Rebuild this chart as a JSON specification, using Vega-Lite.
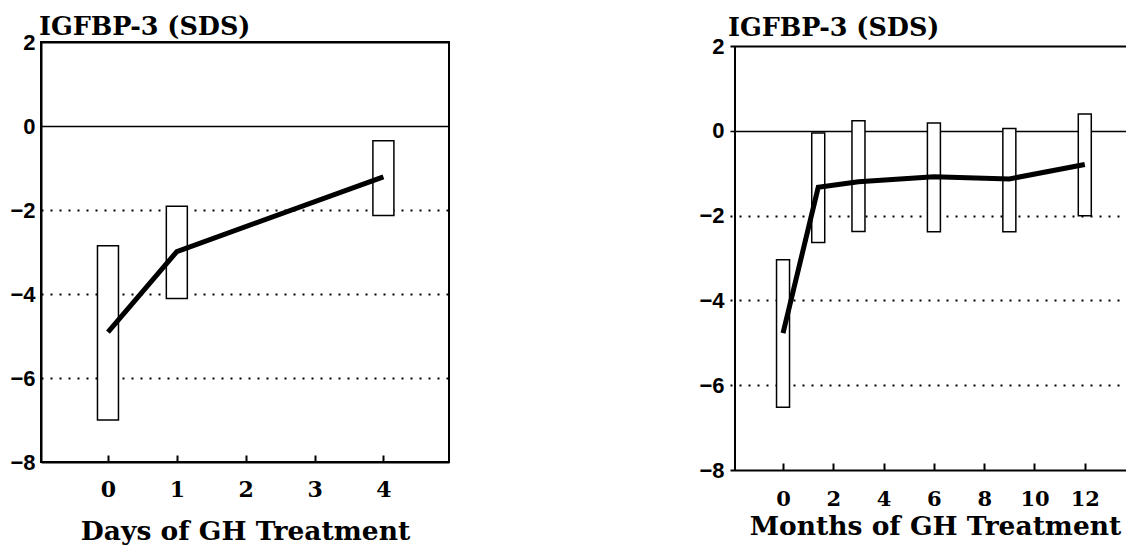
{
  "$schema": "https://vega.github.io/schema/vega-lite/v6.json",
  "background": "white",
  "autosize": {"type": "pad"},
  "padding": {"left": 8, "top": 13, "right": 0, "bottom": 0},
  "spacing": 248,
  "datasets": {
    "days": [
      {"day": 0, "low": -7.0, "high": -2.85, "mean": -4.91},
      {"day": 1, "low": -4.11, "high": -1.91, "mean": -2.99},
      {"day": 4, "low": -2.13, "high": -0.35, "mean": -1.21}
    ],
    "months": [
      {"month": 0, "low": -6.52, "high": -3.04, "mean": -4.77},
      {"month": 1.4, "low": -2.63, "high": -0.05, "mean": -1.33},
      {"month": 3, "low": -2.37, "high": 0.24, "mean": -1.2},
      {"month": 6, "low": -2.38, "high": 0.19, "mean": -1.08},
      {"month": 9, "low": -2.38, "high": 0.06, "mean": -1.13},
      {"month": 12, "low": -2.0, "high": 0.4, "mean": -0.79}
    ]
  },
  "config": {
    "view": {"stroke": "black", "strokeWidth": 2},
    "axis": {"domainColor": "black", "domainWidth": 2, "tickColor": "black", "labelColor": "black", "titleColor": "black", "labelFlush": false}
  },
  "hconcat": [
    {
      "width": 408,
      "height": 420,
      "title": {"text": "IGFBP-3 (SDS)", "anchor": "start", "frame": "group", "font": "DejaVu Serif", "fontSize": 25.5, "fontWeight": "bold", "color": "black", "baseline": "alphabetic", "offset": -29, "dx": -2},
      "data": {"name": "days"},
      "layer": [
        {
          "mark": {"type": "bar", "size": 21, "fill": "white", "stroke": "black", "strokeWidth": 1.5},
          "encoding": {
            "x": {"field": "day", "type": "quantitative", "scale": {"domain": [-0.9, 4.88], "nice": false, "zero": false},
              "axis": {"title": "Days of GH Treatment", "values": [0, 1, 2, 3, 4], "format": "d", "tickSize": -7, "tickWidth": 2, "labelFont": "DejaVu Serif", "labelFontWeight": "bold", "labelFontSize": 22, "labelPadding": 24, "titleFont": "DejaVu Serif", "titleFontSize": 26.5, "titleFontWeight": "bold", "titlePadding": 18, "grid": false}},
            "y": {"field": "low", "type": "quantitative", "scale": {"domain": [-8, 2], "nice": false, "zero": false},
              "axis": {"title": null, "values": [-8, -6, -4, -2, 0, 2], "ticks": false, "labelFont": "Liberation Sans", "labelFontSize": 22, "labelFontWeight": "bold", "labelPadding": 6,
                "grid": true, "gridColor": "black",
                "gridDash": {"condition": {"test": "datum.value >= 0", "value": []}, "value": [2, 7]},
                "gridWidth": {"condition": {"test": "datum.value == 0", "value": 1.5}, "value": 2},
                "gridOpacity": {"condition": {"test": "datum.value == -8", "value": 0}, "value": 1}}},
            "y2": {"field": "high"}
          }
        },
        {
          "mark": {"type": "line", "color": "black", "strokeWidth": 5},
          "encoding": {
            "x": {"field": "day", "type": "quantitative"},
            "y": {"field": "mean", "type": "quantitative"}
          }
        }
      ]
    },
    {
      "width": 396,
      "height": 428,
      "view": {"stroke": null},
      "title": {"text": "IGFBP-3 (SDS)", "anchor": "start", "frame": "group", "font": "DejaVu Serif", "fontSize": 25.5, "fontWeight": "bold", "color": "black", "baseline": "alphabetic", "offset": -26, "dx": -2},
      "data": {"name": "months"},
      "layer": [
        {
          "mark": {"type": "rule", "color": "black", "strokeWidth": 2},
          "encoding": {
            "x": {"datum": -1.91, "type": "quantitative"},
            "y": {"datum": -8, "type": "quantitative"},
            "y2": {"datum": 2}
          }
        },
        {
          "mark": {"type": "bar", "size": 13, "fill": "white", "stroke": "black", "strokeWidth": 1.5},
          "encoding": {
            "x": {"field": "month", "type": "quantitative", "scale": {"domain": [-1.91, 13.44], "nice": false, "zero": false},
              "axis": {"title": "Months of GH Treatment", "values": [0, 2, 4, 6, 8, 10, 12], "format": "d", "tickSize": -7, "tickWidth": 2, "labelFont": "DejaVu Serif", "labelFontWeight": "bold", "labelFontSize": 21, "labelPadding": 25, "titleFont": "DejaVu Serif", "titleFontSize": 26.5, "titleFontWeight": "bold", "titlePadding": 4, "titleX": 205, "titleAlign": "center", "grid": false}},
            "y": {"field": "low", "type": "quantitative", "scale": {"domain": [-8, 2.1], "nice": false, "zero": false},
              "axis": {"title": null, "values": [-8, -6, -4, -2, 0, 2], "ticks": false, "domain": false, "labelFont": "Liberation Sans", "labelFontSize": 22, "labelFontWeight": "bold", "labelPadding": 6,
                "grid": true, "gridColor": "black",
                "gridDash": {"condition": {"test": "datum.value >= 0", "value": []}, "value": [2, 7]},
                "gridWidth": {"condition": {"test": "datum.value == 0", "value": 1.5}, "value": 2},
                "gridOpacity": {"condition": {"test": "datum.value == -8", "value": 0}, "value": 1}}},
            "y2": {"field": "high"}
          }
        },
        {
          "mark": {"type": "line", "color": "black", "strokeWidth": 5},
          "encoding": {
            "x": {"field": "month", "type": "quantitative"},
            "y": {"field": "mean", "type": "quantitative"}
          }
        }
      ]
    }
  ]
}
